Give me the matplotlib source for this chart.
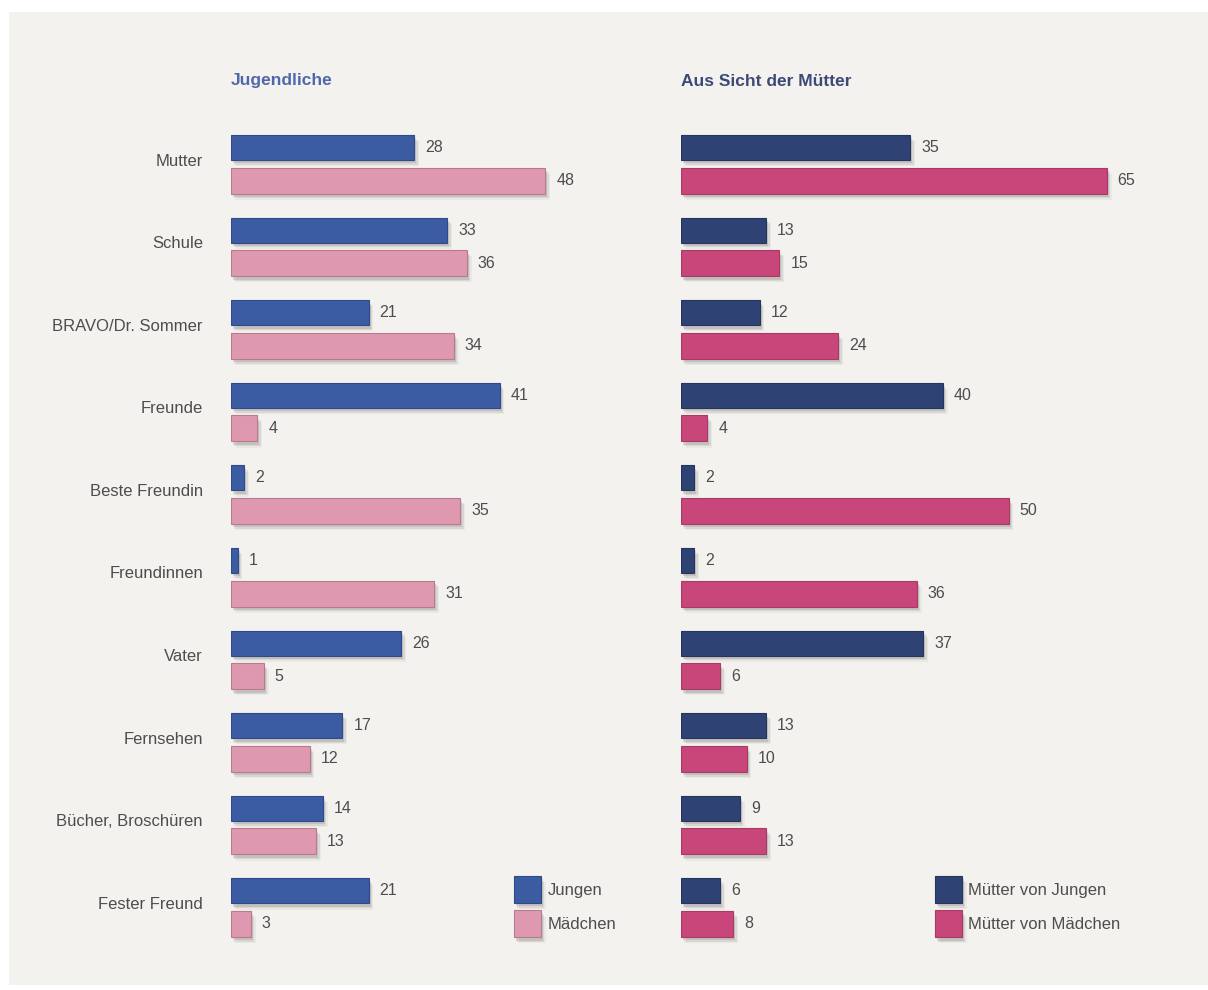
import matplotlib
matplotlib.use("Agg")
import matplotlib.pyplot as plt
import matplotlib.patheffects as pe
from matplotlib.patches import Rectangle

plt.rcParams['font.family'] = ['Liberation Sans', 'DejaVu Sans']

# Daten
kategorien = ["Mutter", "Schule", "BRAVO/Dr. Sommer", "Freunde", "Beste Freundin",
              "Freundinnen", "Vater", "Fernsehen", "Bücher, Broschüren", "Fester Freund"]
jungen = [28, 33, 21, 41, 2, 1, 26, 17, 14, 21]
maedchen = [48, 36, 34, 4, 35, 31, 5, 12, 13, 3]
muetter_jungen = [35, 13, 12, 40, 2, 2, 37, 13, 9, 6]
muetter_maedchen = [65, 15, 24, 4, 50, 36, 6, 10, 13, 8]

# Farben
c_jungen = "#3b5ca3"
c_maedchen = "#de99b0"
c_mj = "#2f4274"
c_mm = "#c8467a"
c_text = "#4d4d4d"

W, H = 1208, 990
fig = plt.figure(figsize=(W / 100, H / 100), dpi=100, facecolor="white")

# Hintergrund der Seite (hinter den Achsen)
fig.patches.append(Rectangle((9 / W, 1 - 985 / H), 1 - 9 / W, (985 - 12) / H,
                             transform=fig.transFigure, facecolor="#f4f2ee",
                             edgecolor="none", zorder=-10))

PX = 6.55          # Pixel pro Prozentpunkt
Y_TOP, Y_BOT = 100, 960
schatten = [pe.SimplePatchShadow(offset=(1.5, -2.5), shadow_rgbFace="k", alpha=0.10),
            pe.SimplePatchShadow(offset=(2.5, -3.5), shadow_rgbFace="k", alpha=0.07),
            pe.SimplePatchShadow(offset=(3.5, -4.5), shadow_rgbFace="k", alpha=0.04),
            pe.Normal()]


def panel(x0, werte1, werte2, farbe1, farbe2, kante1, kante2, namen, titel, titelfarbe,
          mit_kategorien, leg_x, leg_labels):
    ax = fig.add_axes([x0 / W, 1 - Y_BOT / H, 70 * PX / W, (Y_BOT - Y_TOP) / H])
    ax.set_facecolor("none")
    ax.set_xlim(0, 70)
    ax.set_ylim(Y_BOT, Y_TOP)
    ax.axis("off")

    y1 = [147.5 + 82.6 * i for i in range(len(werte1))]
    y2 = [y + 33 for y in y1]
    b1 = ax.barh(y1, werte1, height=25, color=farbe1, edgecolor=kante1, linewidth=0.8,
                 label=leg_labels[0])
    b2 = ax.barh(y2, werte2, height=26, color=farbe2, edgecolor=kante2, linewidth=0.8,
                 label=leg_labels[1])
    for bar in list(b1) + list(b2):
        bar.set_path_effects(schatten)

    for y, v in zip(y1, werte1):
        ax.annotate(str(v), (v, y), xytext=(11, 0), textcoords="offset pixels",
                    ha="left", va="center", fontsize=11.5, color=c_text)
    for y, v in zip(y2, werte2):
        ax.annotate(str(v), (v, y), xytext=(11, 0), textcoords="offset pixels",
                    ha="left", va="center", fontsize=11.5, color=c_text)

    if mit_kategorien:
        for a, b, name in zip(y1, y2, namen):
            ax.annotate(name, (0, (a + b) / 2 - 3), xytext=(-28, 0),
                        textcoords="offset pixels", ha="right", va="center",
                        fontsize=12, color=c_text)

    fig.text(x0 / W, 1 - 81 / H, titel, fontsize=12.5, fontweight="bold",
             color=titelfarbe, ha="left", va="center")

    leg = ax.legend(handles=[b1, b2], loc="upper left", frameon=False,
                    bbox_to_anchor=(leg_x / W, 1 - 876 / H), bbox_transform=fig.transFigure,
                    handlelength=1.6, handleheight=2.1, labelspacing=0.45,
                    handletextpad=0.4, borderpad=0, borderaxespad=0,
                    fontsize=12, labelcolor=c_text)
    for h in leg.legend_handles:
        h.set_path_effects(schatten)
    return ax


panel(231, jungen, maedchen, c_jungen, c_maedchen, "#2f4a86", "#b97a90",
      kategorien, "Jugendliche", "#4f67ad", True, 514, ["Jungen", "Mädchen"])
panel(681, muetter_jungen, muetter_maedchen, c_mj, c_mm, "#243560", "#a93a66",
      kategorien, "Aus Sicht der Mütter", "#3d4a78", False, 935,
      ["Mütter von Jungen", "Mütter von Mädchen"])

fig.savefig("out.png", dpi=100, facecolor="white")
